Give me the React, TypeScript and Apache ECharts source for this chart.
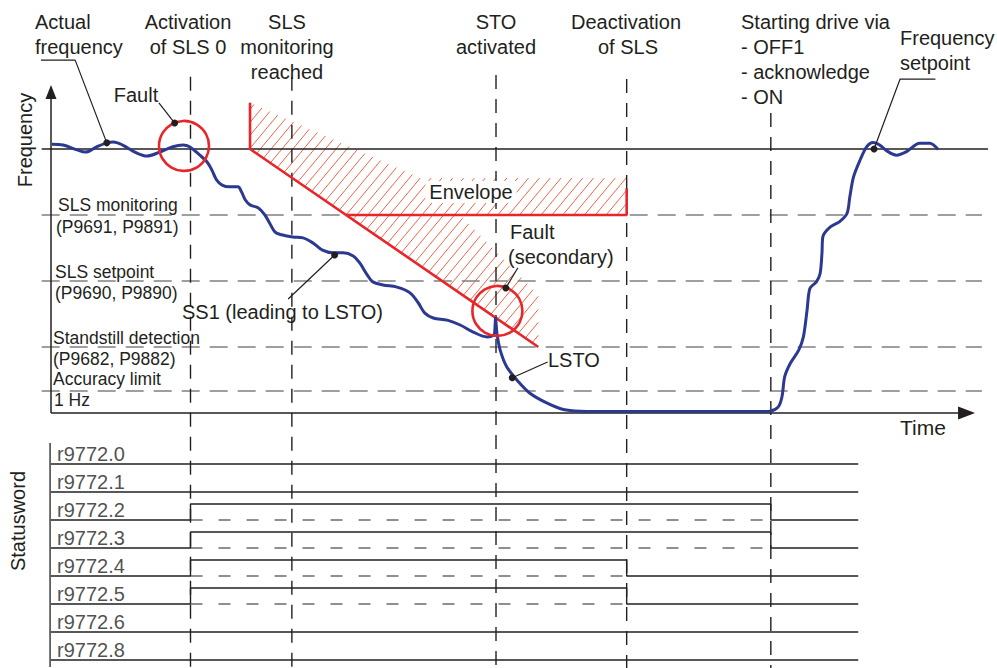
import React, { useEffect, useRef } from 'react';
import * as echarts from 'echarts';

// ---- Data (time units on x, frequency units on y) ----
const eventTimes = [15, 25.9, 47.85, 61.9, 77.4]; // SLS0 on, monitoring reached, STO, SLS off, restart
const eventTopF = [76.4, 76.4, 76.8, 75.9, 68.2];
const eventBottomF = -58;

const setpointF = 60;
const thresholdLevels = [45, 30, 15, 5]; // SLS monitoring, SLS setpoint, standstill, accuracy limit

const freqApproach = [
  [0.1, 61.1], [1.3, 60.9], [2.8, 59.8], [3.7, 59.3], [4.9, 60.5], [6.0, 61.4], [6.7, 61.6], [7.7, 60.9],
  [9.2, 59.1], [10.3, 58.4], [11.7, 59.3], [13.1, 60.5], [14.2, 60.9], [14.9, 60.5], [16.0, 58.6], [16.8, 57.0],
  [17.3, 55.2], [17.8, 53.0], [18.4, 51.8], [19.2, 51.4], [20.1, 51.4], [20.5, 50.2], [20.9, 48.4], [21.4, 47.3],
  [22.3, 46.6], [23.0, 45.0], [23.5, 43.2], [24.1, 41.1], [24.8, 40.5], [26.0, 40.0], [27.1, 39.8], [28.2, 38.6],
  [29.2, 37.0], [30.3, 36.4], [31.4, 36.4], [32.5, 35.7], [33.2, 34.1], [34.0, 31.4], [34.6, 29.8], [35.7, 29.1],
  [37.2, 28.6], [38.6, 27.3], [39.5, 25.0], [40.2, 22.7], [41.1, 21.6], [42.6, 21.1], [44.0, 20.0], [45.4, 18.4],
  [46.9, 17.3], [47.4, 17.5], [47.7, 17.9],
];
const freqSpike = [[47.7, 17.9], [47.8, 21.8], [47.95, 18.0]];
const freqStopAndRestart = [
  [47.95, 18.0], [48.3, 14.3], [49.0, 10.5], [50.1, 7.5], [51.5, 4.5], [53.3, 2.3], [55.1, 0.8], [56.9, 0.4],
  [58.7, 0.35], [76.8, 0.35], [77.3, 0.4], [78.2, 1.4], [78.6, 3.7], [78.9, 8.3], [79.5, 11.3], [80.4, 14.3],
  [80.9, 17.3], [81.3, 23.4], [81.6, 28.3], [82.3, 29.8], [82.7, 31.7], [82.9, 36.3], [83.0, 40.1], [83.8, 42.3],
  [84.8, 43.5], [85.6, 45.4], [85.9, 49.2], [86.3, 53.7], [87.0, 57.5], [87.7, 60.5], [88.4, 61.5], [89.1, 60.9],
  [90.0, 59.4], [90.9, 58.6], [92.0, 59.4], [93.4, 61.3], [94.5, 61.3], [95.4, 59.9],
];

const envelopeRamp = [[21.4, 70.5], [21.4, 60], [52.4, 15]];
const envelopeLimit = [[31.7, 45], [61.9, 45], [61.9, 51.1]];
const hatchPolygon = [[21.4, 70.5], [39.7, 53.4], [61.9, 53.4], [61.9, 45], [44.0, 45], [52.4, 26.8], [52.4, 15], [21.4, 60]];

const faultCircles = [[14.3, 60.7], [48.0, 23.2]];
const calloutDots = [[6.0, 61.4], [13.3, 65.9], [30.5, 35.9], [48.9, 28.4], [49.6, 8.0], [88.5, 60.0]];
const leaderLines = [
  [[-1.7, 80.2], [2.6, 80.2], [6.0, 61.4]],
  [[11.6, 70.5], [13.3, 65.9]],
  [[25.5, 25.9], [30.5, 35.9]],
  [[50.2, 33.0], [48.9, 28.4]],
  [[53.4, 11.6], [49.6, 8.0]],
  [[95.1, 75.9], [91.3, 75.9], [88.5, 60.0]],
];

const axisXEnd = 98.45;
const axisYEnd = 72.95;

const statusLabels = ['r9772.0', 'r9772.1', 'r9772.2', 'r9772.3', 'r9772.4', 'r9772.5', 'r9772.6', 'r9772.8'];
const statusOn: (number[] | null)[] = [null, null, [15, 77.4], [15, 77.4], [15, 61.9], [15, 61.9], null, null];
const statusEnd = 86.8;
const statusHigh = 0.571;

// ---- styling ----
const FONT = 'Liberation Sans, Arial, sans-serif';
const INK = '#231f20';
const BLUE = '#2b3990';
const RED = '#e8262a';
const HATCH = '#f26548';
const GREY = '#808080';

const texts: [string, number, number, string, number][] = [
  ['Actual', 35, 22, 'left', 20],
  ['frequency', 35, 47, 'left', 20],
  ['Activation', 188, 22, 'center', 20],
  ['of SLS 0', 188, 47, 'center', 20],
  ['SLS', 287, 22, 'center', 20],
  ['monitoring', 287, 47, 'center', 20],
  ['reached', 287, 72, 'center', 20],
  ['STO', 496, 22, 'center', 20],
  ['activated', 496, 47, 'center', 20],
  ['Deactivation', 626, 22, 'center', 20],
  ['of SLS', 628, 47, 'center', 20],
  ['Starting drive via', 741, 22, 'left', 20],
  ['- OFF1', 741, 47, 'left', 20],
  ['- acknowledge', 741, 72, 'left', 20],
  ['- ON', 741, 97, 'left', 20],
  ['Frequency', 900, 38, 'left', 20],
  ['setpoint', 900, 63, 'left', 20],
  ['Fault', 136, 95, 'center', 20],
  ['SS1 (leading to LSTO)', 182, 312, 'left', 20],
  ['Fault', 510, 232, 'left', 20],
  ['(secondary)', 508, 257, 'left', 20],
  ['LSTO', 548, 360, 'left', 20],
  ['Time', 900, 427, 'left', 21],
  ['SLS monitoring', 58, 205, 'left', 17.5],
  ['(P9691, P9891)', 56, 227, 'left', 17.5],
  ['SLS setpoint', 55, 272, 'left', 17.5],
  ['(P9690, P9890)', 55, 293, 'left', 17.5],
  ['Standstill detection', 53, 338, 'left', 17.5],
  ['(P9682, P9882)', 53, 359, 'left', 17.5],
  ['Accuracy limit', 53, 379, 'left', 17.5],
  ['1 Hz', 54, 400, 'left', 17.5],
];

function lineSeries(data: number[][], color: string, width: number, extra: any = {}, grid = 0) {
  return {
    type: 'line',
    xAxisIndex: grid,
    yAxisIndex: grid,
    data,
    symbol: 'none',
    silent: true,
    clip: false,
    lineStyle: { color, width, type: 'solid', opacity: 1, ...(extra.lineStyle || {}) },
    z: extra.z ?? 3,
    smooth: extra.smooth ?? false,
  };
}

function buildOption() {
  const series: any[] = [];

  // hatch of the envelope
  series.push({
    type: 'custom',
    xAxisIndex: 0,
    yAxisIndex: 0,
    clip: false,
    silent: true,
    z: 1,
    data: [[0, 0]],
    renderItem: (params: any, api: any) => {
      const pts = hatchPolygon.map((p) => api.coord(p));
      const k = 1.2;
      const step = 13;
      const cs = pts.map((p: number[]) => p[1] + k * p[0]);
      const cmin = Math.min(...cs);
      const cmax = Math.max(...cs);
      const children: any[] = [];
      for (let c = cmin + step / 2; c < cmax; c += step) {
        const xs: number[] = [];
        for (let i = 0; i < pts.length; i++) {
          const a = pts[i];
          const b = pts[(i + 1) % pts.length];
          const ga = a[1] + k * a[0] - c;
          const gb = b[1] + k * b[0] - c;
          if (ga > 0 !== gb > 0) {
            const s = ga / (ga - gb);
            xs.push(a[0] + (b[0] - a[0]) * s);
          }
        }
        xs.sort((m, n) => m - n);
        for (let j = 0; j + 1 < xs.length; j += 2) {
          children.push({
            type: 'line',
            shape: { x1: xs[j], y1: c - k * xs[j], x2: xs[j + 1], y2: c - k * xs[j + 1] },
            style: { stroke: HATCH, lineWidth: 1 },
          });
        }
      }
      return { type: 'group', children };
    },
  });

  // threshold dashed lines
  thresholdLevels.forEach((f) => {
    series.push(lineSeries([[-1, f], [100.1, f]], GREY, 1.3, { lineStyle: { type: [18, 10] }, z: 2 }));
  });
  // setpoint line
  series.push(lineSeries([[-1, setpointF], [100.75, setpointF]], INK, 1.3, { z: 3 }));
  // event lines
  eventTimes.forEach((t, i) => {
    series.push(lineSeries([[t, eventTopF[i]], [t, eventBottomF]], INK, 1.4, { lineStyle: { type: [14, 10] }, z: 3 }));
  });
  // axes
  series.push(lineSeries([[0, 0], [0, axisYEnd]], INK, 1.5, { z: 4 }));
  series.push(lineSeries([[0, 0], [axisXEnd, 0]], INK, 1.5, { z: 4 }));
  series.push({
    type: 'scatter',
    xAxisIndex: 0,
    yAxisIndex: 0,
    silent: true,
    clip: false,
    z: 4,
    data: [
      { value: [0, axisYEnd], symbolSize: [11, 14], symbolRotate: 0 },
      { value: [axisXEnd, 0], symbolSize: [13, 17], symbolRotate: -90 },
    ],
    symbol: 'triangle',
    itemStyle: { color: INK, opacity: 1 },
  });
  // envelope red lines
  series.push(lineSeries(envelopeRamp, RED, 2.6, { z: 5 }));
  series.push(lineSeries(envelopeLimit, RED, 2.6, { z: 5 }));
  // actual frequency
  series.push(lineSeries(freqApproach, BLUE, 3, { z: 6, smooth: 0.35 }));
  series.push(lineSeries(freqSpike, BLUE, 3, { z: 6 }));
  series.push(lineSeries(freqStopAndRestart, BLUE, 3, { z: 6, smooth: 0.3 }));
  // fault circles
  series.push({
    type: 'scatter',
    xAxisIndex: 0,
    yAxisIndex: 0,
    silent: true,
    z: 7,
    data: faultCircles,
    symbol: 'circle',
    symbolSize: 50,
    itemStyle: { color: 'rgba(0,0,0,0)', borderColor: RED, borderWidth: 2.6, opacity: 1 },
  });
  // leaders
  leaderLines.forEach((l) => series.push(lineSeries(l, INK, 1.2, { z: 8 })));
  series.push({
    type: 'scatter',
    xAxisIndex: 0,
    yAxisIndex: 0,
    silent: true,
    z: 9,
    data: calloutDots,
    symbol: 'circle',
    symbolSize: 7,
    itemStyle: { color: INK, opacity: 1 },
  });

  // ---- status word ----
  series.push(lineSeries([[-0.1, -0.25], [-0.1, 7.75]], INK, 1.3, { z: 4 }, 1));
  statusLabels.forEach((_, i) => {
    const low = 7 - i;
    const on = statusOn[i];
    if (on) {
      const [r, f] = on;
      series.push(
        lineSeries(
          [[0, low], [r, low], [r, low + statusHigh], [f, low + statusHigh], [f, low], [statusEnd, low]],
          INK,
          1.4,
          { z: 4 },
          1
        )
      );
      series.push(lineSeries([[r, low], [f, low]], INK, 1.1, { lineStyle: { type: [12, 16] }, z: 4 }, 1));
    } else {
      series.push(lineSeries([[0, low], [statusEnd, low]], INK, 1.4, { z: 4 }, 1));
    }
  });
  series.push({
    type: 'scatter',
    xAxisIndex: 1,
    yAxisIndex: 1,
    silent: true,
    z: 9,
    symbolSize: 1,
    itemStyle: { color: 'rgba(0,0,0,0)' },
    data: statusLabels.map((name, i) => ({ name, value: [0.6, 7 - i + 0.375] })),
    label: {
      show: true,
      position: 'right',
      distance: 0,
      formatter: (p: any) => p.name,
      color: INK,
      fontSize: 20,
      fontFamily: FONT,
    },
  });

  const graphic: any[] = texts.map(([text, x, y, align, size]) => ({
    type: 'text',
    x,
    y,
    z: 100,
    silent: true,
    style: {
      text,
      fill: INK,
      font: `${size}px ${FONT}`,
      textAlign: align,
      textVerticalAlign: 'middle',
    },
  }));
  graphic.push({
    type: 'text',
    x: 471,
    y: 192,
    z: 100,
    silent: true,
    style: {
      text: 'Envelope',
      fill: INK,
      font: `20px ${FONT}`,
      textAlign: 'center',
      textVerticalAlign: 'middle',
      backgroundColor: '#fff',
      padding: [1, 4],
    },
  });
  graphic.push({
    type: 'text',
    x: 25,
    y: 140,
    rotation: Math.PI / 2,
    z: 100,
    silent: true,
    style: { text: 'Frequency', fill: INK, font: `20px ${FONT}`, textAlign: 'center', textVerticalAlign: 'middle' },
  });
  graphic.push({
    type: 'text',
    x: 18,
    y: 521,
    rotation: Math.PI / 2,
    z: 100,
    silent: true,
    style: { text: 'Statusword', fill: INK, font: `20px ${FONT}`, textAlign: 'center', textVerticalAlign: 'middle' },
  });

  return {
    animation: false,
    backgroundColor: '#ffffff',
    grid: [
      { left: 41.7, right: 6.7, top: 83, bottom: 255 },
      { left: 41.7, right: 6.7, top: 436, bottom: 1 },
    ],
    xAxis: [
      { type: 'value', gridIndex: 0, min: -1, max: 101, show: false },
      { type: 'value', gridIndex: 1, min: -1, max: 101, show: false },
    ],
    yAxis: [
      { type: 'value', gridIndex: 0, min: 0, max: 75, show: false },
      { type: 'value', gridIndex: 1, min: -0.25, max: 8, show: false },
    ],
    series,
    graphic,
  };
}

export default function App() {
  const ref = useRef<HTMLDivElement>(null);
  useEffect(() => {
    if (!ref.current) return;
    const chart = echarts.init(ref.current, null, { renderer: 'svg', width: 997, height: 668 });
    chart.setOption(buildOption());
    return () => chart.dispose();
  }, []);
  return (
    <div
      ref={ref}
      style={{ position: 'absolute', left: 0, top: 0, width: 997, height: 668, background: '#fff' }}
    />
  );
}
